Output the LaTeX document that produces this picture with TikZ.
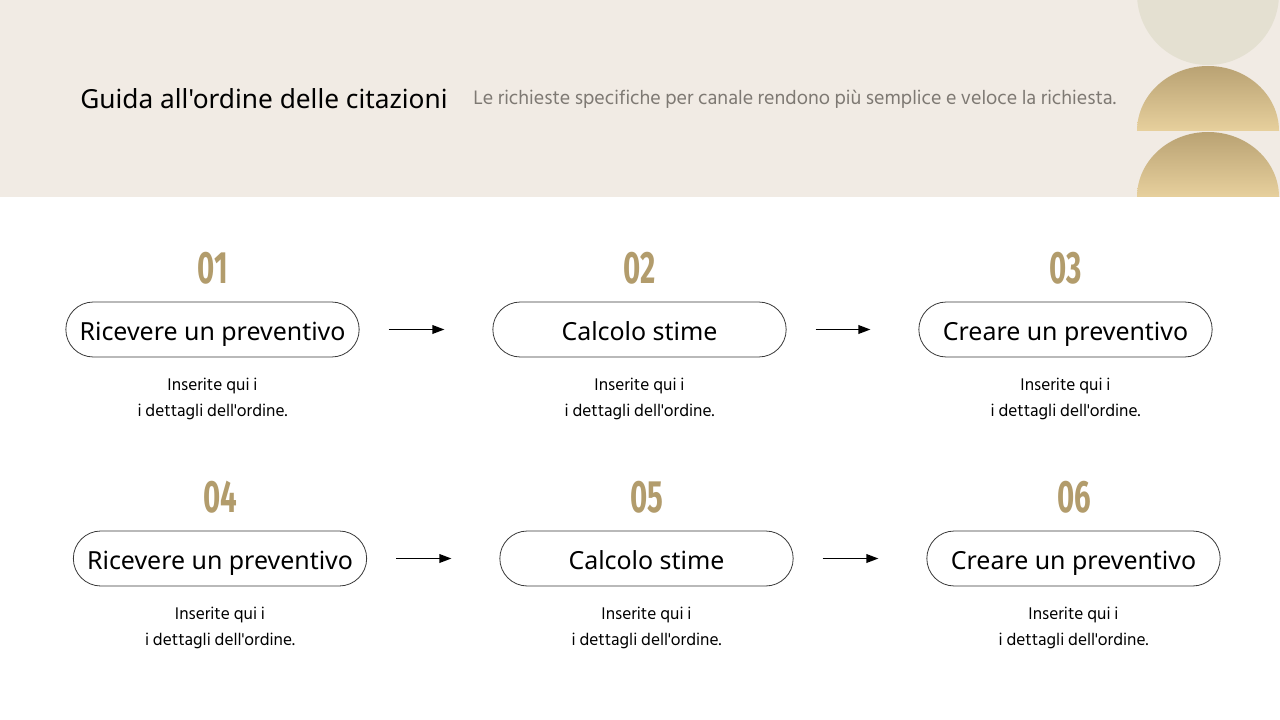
\documentclass[tikz,border=0pt]{standalone}
\usepackage{fontspec}
\setmainfont{Noto Sans}[Ligatures=TeXOff]
\newfontfamily\hindfont{Hind Siliguri}
\newfontfamily\numfont{Fira Sans}
\usetikzlibrary{arrows.meta}
\definecolor{headbg}{HTML}{F1EBE4}
\definecolor{moon}{HTML}{E4E0D1}
\definecolor{goldtop}{HTML}{B9A273}
\definecolor{goldbot}{HTML}{E7D09D}
\definecolor{numgold}{HTML}{B29C6C}
\definecolor{subgrey}{HTML}{7E7973}
\definecolor{boxline}{HTML}{3A3A3A}

\begin{document}
\begin{tikzpicture}[
         x = 0.75pt, y = -0.75pt,
         > = {Triangle[length=9pt,width=6.5pt]},
 stepbox/.style = {draw=boxline, line width=0.6pt, rounded corners=20.6pt,
                   minimum width=220pt, minimum height=41.25pt,
                   text height=17.2pt, text depth=0pt,
                   inner sep=0pt, font=\fontsize{18.7}{22}\selectfont},
 stepnum/.style = {text=numgold, inner sep=0pt,
                   font=\numfont\bfseries\fontsize{34}{36}\selectfont},
stepdesc/.style = {align=center, inner sep=0pt,
                   font=\hindfont\fontsize{13}{19.5}\selectfont},
    flow/.style = {->, line width=1pt, shorten <=21.75pt, shorten >=36pt}
                        ]
% background
    \useasboundingbox (0,0) rectangle (1280,720);
    \fill[white] (0,0) rectangle (1280,720);
    \fill[headbg] (0,0) rectangle (1280,197);
% moons at the top right
    \begin{scope}
    \clip (0,0) rectangle (1280,197);
    \fill[moon] (1208,-6) circle[radius=71];
    \shade[top color=goldtop, bottom color=goldbot]
        (1137,131) arc[start angle=180, end angle=0, x radius=71, y radius=-65] -- cycle;
    \shade[top color=goldtop, bottom color=goldbot]
        (1137,197) arc[start angle=180, end angle=0, x radius=71, y radius=-65] -- cycle;
    \end{scope}
% header texts
    \node[anchor=west, inner sep=0pt, font=\fontsize{19.7}{23}\selectfont]
        (title) at (80,99) {Guida all'ordine delle citazioni};
    \node[anchor=west, inner sep=0pt, text=subgrey, font=\hindfont\fontsize{15}{18}\selectfont]
        (subtitle) at (473,99) {Le richieste specifiche per canale rendono più semplice e veloce la richiesta.};
% first row
    \node[stepbox] (box1) at (212.5,329.5) {Ricevere un preventivo};
    \node[stepbox] (box2) at (639.5,329.5) {Calcolo stime};
    \node[stepbox] (box3) at (1065.5,329.5) {Creare un preventivo};
    \node[stepnum] (num1) at (213,268) {\scalebox{0.65}[1]{01}};
    \node[stepnum] (num2) at (640,268) {\scalebox{0.65}[1]{02}};
    \node[stepnum] (num3) at (1066,268) {\scalebox{0.65}[1]{03}};
    \node[stepdesc] (desc1) at (212.5,399) {Inserite qui i\\i dettagli dell'ordine.};
    \node[stepdesc] (desc2) at (639.5,399) {Inserite qui i\\i dettagli dell'ordine.};
    \node[stepdesc] (desc3) at (1065.5,399) {Inserite qui i\\i dettagli dell'ordine.};
    \draw[flow] (box1.east) -- (box2.west);
    \draw[flow] (box2.east) -- (box3.west);
% second row
    \node[stepbox] (box4) at (220,558.5) {Ricevere un preventivo};
    \node[stepbox] (box5) at (646.5,558.5) {Calcolo stime};
    \node[stepbox] (box6) at (1073.5,558.5) {Creare un preventivo};
    \node[stepnum] (num4) at (220.5,497) {\scalebox{0.65}[1]{04}};
    \node[stepnum] (num5) at (647,497) {\scalebox{0.65}[1]{05}};
    \node[stepnum] (num6) at (1074,497) {\scalebox{0.65}[1]{06}};
    \node[stepdesc] (desc4) at (220,628) {Inserite qui i\\i dettagli dell'ordine.};
    \node[stepdesc] (desc5) at (646.5,628) {Inserite qui i\\i dettagli dell'ordine.};
    \node[stepdesc] (desc6) at (1073.5,628) {Inserite qui i\\i dettagli dell'ordine.};
    \draw[flow] (box4.east) -- (box5.west);
    \draw[flow] (box5.east) -- (box6.west);
\end{tikzpicture}
\end{document}
